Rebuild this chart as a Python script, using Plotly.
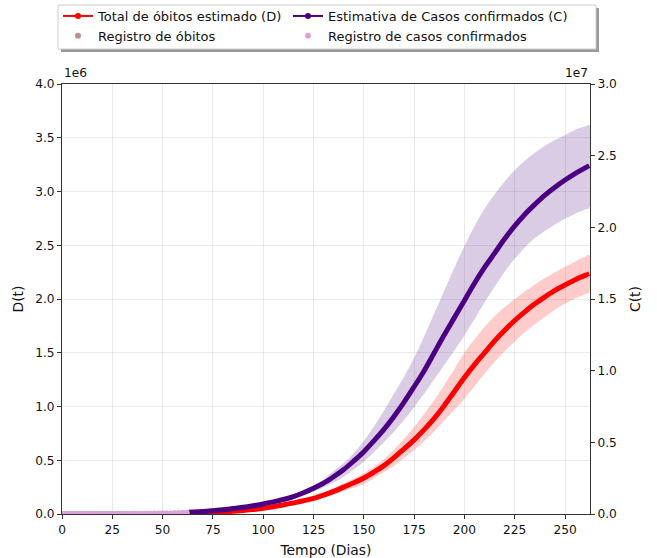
import plotly.graph_objects as go

# ---------------- data ----------------
days_model = [63, 65, 70, 75, 80, 85, 90, 95, 100, 105, 110, 115, 120, 125, 130, 135, 140, 145,
              150, 155, 160, 165, 170, 175, 180, 185, 190, 195, 200, 205, 210, 215, 220, 225,
              230, 235, 240, 245, 250, 255, 260, 262]

# Total de óbitos estimado (D), units of 1e6
deaths_est = [0.005, 0.006, 0.009, 0.013, 0.018, 0.025, 0.032, 0.042, 0.053, 0.068, 0.084, 0.103,
              0.123, 0.146, 0.176, 0.21, 0.25, 0.29, 0.335, 0.39, 0.45, 0.525, 0.605, 0.69, 0.785,
              0.89, 1.01, 1.14, 1.27, 1.39, 1.50, 1.61, 1.71, 1.80, 1.88, 1.955, 2.02, 2.08, 2.13,
              2.18, 2.22, 2.235]
deaths_upper = [0.0055, 0.0066, 0.0098, 0.0142, 0.0197, 0.0274, 0.0352, 0.0465, 0.058, 0.075, 0.093,
                0.115, 0.138, 0.165, 0.20, 0.24, 0.285, 0.33, 0.378, 0.44, 0.51, 0.60, 0.70, 0.81,
                0.93, 1.06, 1.20, 1.35, 1.50, 1.625, 1.74, 1.84, 1.925, 2.00, 2.07, 2.135, 2.195,
                2.25, 2.30, 2.35, 2.395, 2.41]
deaths_lower = [0.0045, 0.0054, 0.0082, 0.0118, 0.0163, 0.0226, 0.0288, 0.0378, 0.048, 0.061, 0.075,
                0.091, 0.108, 0.128, 0.153, 0.18, 0.215, 0.245, 0.28, 0.33, 0.39, 0.45, 0.52, 0.595,
                0.68, 0.77, 0.87, 0.97, 1.07, 1.19, 1.305, 1.415, 1.515, 1.605, 1.69, 1.765, 1.835,
                1.90, 1.955, 2.005, 2.045, 2.06]

# Estimativa de Casos confirmados (C), units of 1e7
cases_est = [0.0125, 0.0135, 0.017, 0.023, 0.030, 0.038, 0.047, 0.058, 0.070, 0.085, 0.101, 0.122,
             0.148, 0.179, 0.215, 0.26, 0.31, 0.37, 0.435, 0.51, 0.59, 0.68, 0.78, 0.888, 1.00,
             1.125, 1.25, 1.37, 1.49, 1.61, 1.72, 1.82, 1.92, 2.01, 2.09, 2.16, 2.225, 2.28, 2.33,
             2.375, 2.415, 2.43]
cases_upper = [0.0135, 0.0146, 0.0185, 0.025, 0.033, 0.042, 0.052, 0.064, 0.077, 0.092, 0.110, 0.135,
               0.165, 0.20, 0.245, 0.30, 0.355, 0.425, 0.51, 0.61, 0.72, 0.84, 0.96, 1.09, 1.24,
               1.40, 1.56, 1.72, 1.87, 2.01, 2.13, 2.23, 2.32, 2.40, 2.465, 2.52, 2.57, 2.61, 2.645,
               2.68, 2.705, 2.715]
cases_lower = [0.0115, 0.0124, 0.0155, 0.021, 0.027, 0.034, 0.042, 0.052, 0.062, 0.074, 0.088, 0.106,
               0.128, 0.155, 0.185, 0.22, 0.26, 0.31, 0.365, 0.43, 0.50, 0.575, 0.655, 0.745, 0.84,
               0.94, 1.04, 1.14, 1.245, 1.36, 1.475, 1.585, 1.69, 1.78, 1.86, 1.925, 1.975, 2.02,
               2.06, 2.095, 2.125, 2.135]

# Registered data (raw counts)
days_reg = [0, 2, 4, 6, 8, 10, 12, 14, 16, 18, 20, 22, 24, 26, 28, 30, 32, 34, 36, 38, 40, 42,
            44, 46, 48, 50, 52, 54, 56, 58, 60, 62]
cases_reg = [1, 1, 2, 3, 13, 25, 34, 77, 151, 234, 428, 904, 1546, 2201, 2985, 3904, 4630, 6836,
             9056, 11130, 12056, 15927, 19638, 22169, 25262, 30425, 36599, 40581, 45757, 52995,
             61888, 71886]
deaths_reg = [0, 0, 0, 0, 0, 0, 0, 0, 0, 0, 4, 18, 34, 59, 92, 114, 165, 241, 359, 486, 553, 800,
              1057, 1223, 1328, 1924, 2347, 2575, 2906, 3670, 4205, 4992]

x_ticks = [0, 25, 50, 75, 100, 125, 150, 175, 200, 225, 250]
y_ticks = [0.0, 0.5, 1.0, 1.5, 2.0, 2.5, 3.0, 3.5, 4.0]
y2_ticks = [0.0, 0.5, 1.0, 1.5, 2.0, 2.5, 3.0]

RED = "#FF0000"
INDIGO = "#4B0082"
PLUM = "#DDA0DD"
ROSY = "#BC8F8F"
FONT = "DejaVu Sans"

# plot-area geometry in pixels
W, H = 657, 558
ML, MR, MT, MB = 62, 67, 84, 44
PW, PH = W - ML - MR, H - MT - MB


def px_x(px):
    return (px - ML) / PW


def px_y(py):
    return 1 + (MT - py) / PH


fig = go.Figure()

# ---- deaths (left axis) ----
fig.add_trace(go.Scatter(
    x=days_model + days_model[::-1], y=deaths_upper + deaths_lower[::-1],
    fill="toself", fillcolor="rgba(255,0,0,0.2)", line=dict(width=0, shape="spline"),
    mode="lines", showlegend=False, hoverinfo="skip", yaxis="y"))
fig.add_trace(go.Scatter(
    x=days_model, y=deaths_est, mode="lines", line=dict(color=RED, width=5, shape="spline"),
    showlegend=False, yaxis="y"))
fig.add_trace(go.Scatter(
    x=days_reg, y=[v / 1e6 for v in deaths_reg], mode="markers",
    marker=dict(color=ROSY, size=6), name="Registro de óbitos", legendrank=2,
    legend="legend", yaxis="y"))

# ---- cases (right axis) ----
fig.add_trace(go.Scatter(
    x=days_model + days_model[::-1], y=cases_upper + cases_lower[::-1],
    fill="toself", fillcolor="rgba(75,0,130,0.2)", line=dict(width=0, shape="spline"),
    mode="lines", showlegend=False, hoverinfo="skip", yaxis="y2"))
fig.add_trace(go.Scatter(
    x=days_model, y=cases_est, mode="lines", line=dict(color=INDIGO, width=5, shape="spline"),
    showlegend=False, yaxis="y2"))
fig.add_trace(go.Scatter(
    x=days_reg, y=[v / 1e7 for v in cases_reg], mode="markers",
    marker=dict(color=PLUM, size=6), name="Registro de casos confirmados", legendrank=2,
    legend="legend2", yaxis="y2"))

# ---- legend-only entries for the estimated curves ----
fig.add_trace(go.Scatter(
    x=[None], y=[None], mode="lines+markers", line=dict(color=RED, width=2),
    marker=dict(color=RED, size=6), name="Total de óbitos estimado (D)", legendrank=1,
    legend="legend", yaxis="y"))
fig.add_trace(go.Scatter(
    x=[None], y=[None], mode="lines+markers", line=dict(color=INDIGO, width=2),
    marker=dict(color=INDIGO, size=6), name="Estimativa de Casos confirmados (C)", legendrank=1,
    legend="legend2", yaxis="y2"))

axis_common = dict(showline=True, linecolor="#333333", linewidth=1, ticks="outside",
                   ticklen=4, tickwidth=1, tickcolor="#333333",
                   tickfont=dict(family=FONT, size=12.2, color="#111111"),
                   zeroline=False)

# legend frame (box + shadow), pixel coordinates
LEG_L, LEG_R, LEG_T, LEG_B = 58, 596, 5, 49
SH = 3
LEG_TEXT_TOP = 1

legend_common = dict(orientation="v", xanchor="left", yanchor="top",
                     bgcolor="rgba(0,0,0,0)", borderwidth=0, traceorder="normal",
                     font=dict(family=FONT, size=13, color="#111111"))

fig.update_layout(
    width=W, height=H,
    margin=dict(l=ML, r=MR, t=MT, b=MB, autoexpand=False),
    paper_bgcolor="white", plot_bgcolor="white",
    font=dict(family=FONT, size=13, color="#111111"),
    xaxis=dict(range=[0, 262.4], tickvals=x_ticks, ticktext=[str(t) for t in x_ticks],
               mirror=True, showgrid=True, gridcolor="rgba(0,0,0,0.08)", gridwidth=1,
               title=dict(text="Tempo (Dias)", font=dict(family=FONT, size=13.9), standoff=9),
               **axis_common),
    yaxis=dict(range=[0, 4.0], tickvals=y_ticks, ticktext=[f"{t:.1f}" for t in y_ticks],
               showgrid=True, gridcolor="rgba(0,0,0,0.08)", gridwidth=1,
               title=dict(text="D(t)", font=dict(family=FONT, size=13.9), standoff=8),
               **axis_common),
    yaxis2=dict(range=[0, 3.0], tickvals=y2_ticks, ticktext=[f"{t:.1f}" for t in y2_ticks],
                overlaying="y", side="right", showgrid=False,
                title=dict(text="C(t)", font=dict(family=FONT, size=13.9), standoff=14),
                **axis_common),
    legend=dict(x=px_x(58), y=px_y(LEG_TEXT_TOP), **legend_common),
    legend2=dict(x=px_x(288), y=px_y(LEG_TEXT_TOP), **legend_common),
    showlegend=True,
    annotations=[
        dict(text="1e6", xref="paper", yref="paper", x=0, y=1, xanchor="left", yanchor="bottom",
             yshift=2, showarrow=False, font=dict(family=FONT, size=12.2, color="#111111")),
        dict(text="1e7", xref="paper", yref="paper", x=1, y=1, xanchor="right", yanchor="bottom",
             yshift=2, showarrow=False, font=dict(family=FONT, size=12.2, color="#111111")),
    ],
    shapes=[
        dict(type="rect", xref="paper", yref="paper",
             x0=px_x(LEG_L + SH), x1=px_x(LEG_R + SH),
             y0=px_y(LEG_B + SH), y1=px_y(LEG_T + SH),
             fillcolor="rgba(0,0,0,0.4)", line=dict(width=0), layer="below"),
        dict(type="rect", xref="paper", yref="paper",
             x0=px_x(LEG_L), x1=px_x(LEG_R),
             y0=px_y(LEG_B), y1=px_y(LEG_T),
             fillcolor="white", line=dict(width=1, color="#cccccc"), layer="below"),
    ],
)

fig.write_html("out.html", config={"displayModeBar": False},
               post_script="document.body.style.margin='0';")
